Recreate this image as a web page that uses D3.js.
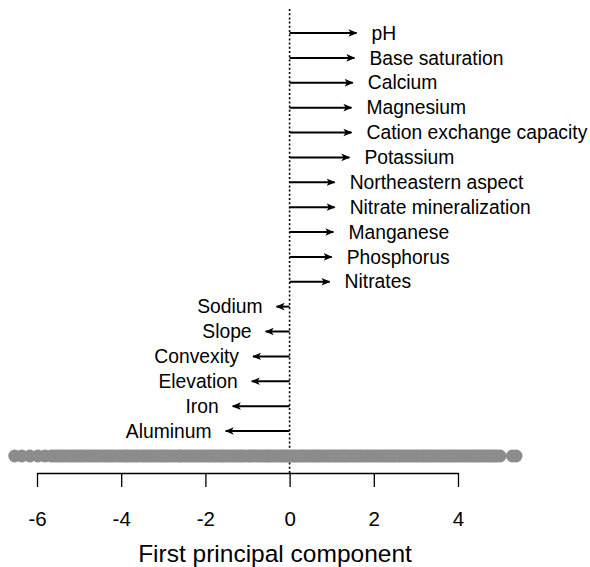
<!DOCTYPE html>
<html>
<head>
<meta charset="utf-8">
<script src="https://cdn.jsdelivr.net/npm/d3@7"></script>
<style>
	body { margin: 0; background: #fff; }
	svg text { font-family: "Liberation Sans", Arial, sans-serif; fill: #000; }
</style>
</head>
<body>
<div id="chart"></div>
<script>
// loadings (arrow tips, in PC1 units)
var variables = ['pH', 'Base saturation', 'Calcium', 'Magnesium', 'Cation exchange capacity',
	'Potassium', 'Northeastern aspect', 'Nitrate mineralization', 'Manganese', 'Phosphorus',
	'Nitrates', 'Sodium', 'Slope', 'Convexity', 'Elevation', 'Iron', 'Aluminum'];
var loadings = [1.59, 1.54, 1.5, 1.47, 1.47, 1.42, 1.07, 1.07, 1.04, 1.0, 0.95,
	-0.31, -0.57, -0.87, -0.9, -1.35, -1.52];

// site scores on the first principal component (two survey years)
var scoresA = [-6.53, -6.36, -6.17, -5.98, -5.81, -5.66, -5.52, -5.41, -5.27, -5.15, -5.02, -4.91,
	-4.78, -4.66, -4.55, -4.41, -4.3, -4.18, -4.05, -3.93, -3.84, -3.71, -3.6, -3.47, -3.36,
	-3.25, -3.12, -3.01, -2.9, -2.78, -2.66, -2.57, -2.44, -2.33, -2.21, -2.1, -1.98, -1.87,
	-1.76, -1.64, -1.55, -1.43, -1.32, -1.2, -1.11, -0.98, -0.89, -0.77, -0.66, -0.54, -0.45,
	-0.33, -0.22, -0.12, -0.03, 0.08, 0.17, 0.29, 0.38, 0.5, 0.61, 0.7, 0.82, 0.93, 1.04,
	1.14, 1.26, 1.35, 1.47, 1.58, 1.69, 1.8, 1.91, 2.02, 2.13, 2.24, 2.35, 2.46, 2.57, 2.68,
	2.79, 2.9, 3.01, 3.12, 3.23, 3.34, 3.45, 3.56, 3.67, 3.78, 3.89, 4.0, 4.11, 4.22, 4.33,
	4.44, 4.55, 4.66, 4.77, 4.87, 5.0, 5.29, 5.38];
var scoresB = [-5.59, -5.47, -5.34, -5.21, -5.09, -4.97, -4.85, -4.72, -4.6, -4.48, -4.36, -4.24,
	-4.11, -3.99, -3.88, -3.77, -3.65, -3.53, -3.42, -3.3, -3.18, -3.06, -2.95, -2.84, -2.72,
	-2.61, -2.5, -2.39, -2.27, -2.15, -2.04, -1.92, -1.81, -1.7, -1.6, -1.49, -1.37, -1.26,
	-1.15, -1.04, -0.93, -0.83, -0.71, -0.6, -0.5, -0.39, -0.27, -0.17, -0.07, 0.02, 0.12,
	0.23, 0.33, 0.44, 0.55, 0.66, 0.76, 0.87, 0.98, 1.09, 1.2, 1.3, 1.41, 1.52, 1.63, 1.74,
	1.85, 1.96, 2.07, 2.18, 2.29, 2.4, 2.51, 2.62, 2.73, 2.84, 2.95, 3.06, 3.17, 3.28, 3.39,
	3.5, 3.61, 3.72, 3.83, 3.94, 4.05, 4.16, 4.27, 4.38, 4.49, 4.6, 4.71, 4.82, 4.92];

var tickValues = [-6, -4, -2, 0, 2, 4];

var width = 590;
var height = 567;

var svg = d3.select('#chart')
	.append('svg')
	.attr('width', width)
	.attr('height', height);

var x = d3.scaleLinear()
	.domain([-6, 4])
	.range([37, 458]);

var y = d3.scalePoint()
	.domain(variables)
	.range([33, 431]);

var bandY = 456;
var axisY = 473;

svg.append('defs').append('marker')
	.attr('id', 'head')
	.attr('viewBox', '0 0 10 10')
	.attr('refX', 9)
	.attr('refY', 5)
	.attr('markerUnits', 'userSpaceOnUse')
	.attr('markerWidth', 9)
	.attr('markerHeight', 9)
	.attr('orient', 'auto')
	.append('path')
	.attr('d', 'M0,0.8L10,5L0,9.2L2.5,5Z')
	.attr('fill', '#000');

// zero line
svg.append('line')
	.attr('x1', x(0)).attr('x2', x(0))
	.attr('y1', 9).attr('y2', axisY)
	.attr('stroke', '#000')
	.attr('stroke-width', 1.6)
	.attr('stroke-dasharray', '2,2.2');

// scores band
svg.selectAll('.score')
	.data(scoresA.concat(scoresB))
	.enter()
	.append('circle')
	.attr('class', 'score')
	.attr('cx', function(d){ return x(d); })
	.attr('cy', bandY)
	.attr('r', 6.4)
	.attr('fill', '#8c8c8c');

// arrows
var rows = variables.map(function(v, i){
	return {name: v, value: loadings[i]};
});

svg.selectAll('.arrow')
	.data(rows)
	.enter()
	.append('line')
	.attr('class', 'arrow')
	.attr('x1', x(0))
	.attr('x2', function(d){ return x(d.value); })
	.attr('y1', function(d){ return y(d.name); })
	.attr('y2', function(d){ return y(d.name); })
	.attr('stroke', '#000')
	.attr('stroke-width', 2)
	.attr('marker-end', 'url(#head)');

svg.selectAll('.label')
	.data(rows)
	.enter()
	.append('text')
	.attr('class', 'label')
	.attr('x', function(d){
		return d.value > 0 ? x(d.value) + 15 : x(d.value) - 14;
	})
	.attr('y', function(d){ return y(d.name) + 6.7; })
	.attr('text-anchor', function(d){ return d.value > 0 ? 'start' : 'end'; })
	.style('font-size', '19.3px')
	.text(function(d){ return d.name; });

// axis
var axis = svg.append('g')
	.attr('transform', 'translate(0,' + axisY + ')')
	.call(d3.axisBottom(x)
		.tickValues(tickValues)
		.tickSize(14)
		.tickSizeOuter(0)
		.tickPadding(24)
		.tickFormat(function(d){ return d; }));

axis.select('.domain').attr('stroke', '#000').attr('stroke-width', 1.3);
axis.selectAll('.tick line').attr('stroke', '#000').attr('stroke-width', 1.3);
axis.selectAll('.tick text')
	.style('font-family', '"Liberation Sans", Arial, sans-serif')
	.style('font-size', '20.5px')
	.attr('fill', '#000');

svg.append('text')
	.attr('x', 275)
	.attr('y', 562)
	.attr('text-anchor', 'middle')
	.style('font-size', '24.5px')
	.text('First principal component');
</script>
</body>
</html>
